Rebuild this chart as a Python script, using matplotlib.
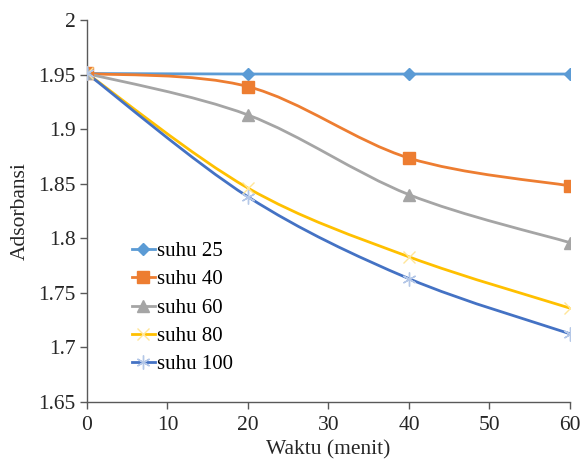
import matplotlib
matplotlib.use("Agg")
import matplotlib.pyplot as plt
from matplotlib.path import Path
from matplotlib.patches import PathPatch
from matplotlib.lines import Line2D

plt.rcParams["font.family"] = ["Liberation Serif", "DejaVu Serif"]

waktu = [0, 20, 40, 60]
labels = ["suhu 25", "suhu 40", "suhu 60", "suhu 80", "suhu 100"]
suhu_25 = [1.951, 1.9505, 1.9505, 1.9505]
suhu_40 = [1.951, 1.939, 1.8735, 1.848]
suhu_60 = [1.951, 1.913, 1.840, 1.796]
suhu_80 = [1.951, 1.846, 1.783, 1.736]
suhu_100 = [1.951, 1.838, 1.763, 1.7125]

colors = ["#5B9BD5", "#ED7D31", "#A5A5A5", "#FFC000", "#4472C4"]
markers = ["D", "s", "^", "x", (6, 2, 0)]
msizes = [6, 8, 8, 9, 10]
mface = ["#5B9BD5", "#ED7D31", "#A5A5A5", "#FFE699", "#B4C7E7"]


def smooth_path(xs, ys):
    # Excel-style smoothed line: cubic Bezier through the data points
    pts = list(zip(xs, ys))
    verts = [pts[0]]
    codes = [Path.MOVETO]
    n = len(pts)
    for i in range(n - 1):
        p0 = pts[i - 1] if i > 0 else pts[i]
        p1, p2 = pts[i], pts[i + 1]
        p3 = pts[i + 2] if i + 2 < n else pts[i + 1]
        c1 = (p1[0] + (p2[0] - p0[0]) / 6, p1[1] + (p2[1] - p0[1]) / 6)
        c2 = (p2[0] - (p3[0] - p1[0]) / 6, p2[1] - (p3[1] - p1[1]) / 6)
        verts += [c1, c2, p2]
        codes += [Path.CURVE4] * 3
    return Path(verts, codes)


fig = plt.figure(figsize=(5.81, 4.61), dpi=100)
ax = fig.add_axes([0.1497, 0.128, 0.8313, 0.8286])

series = [suhu_25, suhu_40, suhu_60, suhu_80, suhu_100]
handles = []
for ys, c, m, ms, mf, lab in zip(series, colors, markers, msizes, mface, labels):
    thin = m in ("x",) or isinstance(m, tuple)
    ax.add_patch(PathPatch(smooth_path(waktu, ys), facecolor="none", edgecolor=c, lw=2.0, zorder=2))
    if thin:
        ax.plot(waktu, ys, linestyle="none", marker=m, markersize=ms, color=mf,
                markeredgecolor=mf, markeredgewidth=1.0, zorder=3)
    else:
        ax.plot(waktu, ys, linestyle="none", marker=m, markersize=ms, color=c, zorder=3)
    handles.append(Line2D([0], [0], color=c, lw=2.0, marker=m, markersize=ms,
                          markerfacecolor=mf, markeredgecolor=mf if thin else c,
                          markeredgewidth=1.0))

ax.set_xlim(0, 60)
ax.set_ylim(1.65, 2.0)
ax.set_xticks([0, 10, 20, 30, 40, 50, 60])
ax.set_yticks([1.65, 1.7, 1.75, 1.8, 1.85, 1.9, 1.95, 2.0])
ax.set_yticklabels(["1.65", "1.7", "1.75", "1.8", "1.85", "1.9", "1.95", "2"])

for s in ("top", "right"):
    ax.spines[s].set_visible(False)
for s in ("left", "bottom"):
    ax.spines[s].set_color("#595959")
    ax.spines[s].set_linewidth(1.0)
ax.tick_params(direction="out", length=5, width=1.0, color="#595959",
               labelsize=15.5, labelcolor="#262626", pad=3)
ax.tick_params(axis="x", pad=5)

ax.set_xlabel("Waktu (menit)", fontsize=15.5, color="#262626", labelpad=4)
ax.set_ylabel("Adsorbansi", fontsize=15.5, color="#262626", labelpad=6)

ax.legend(handles, labels, loc="upper left", bbox_to_anchor=(0.093, 0.42), frameon=False,
          fontsize=15, handlelength=1.1, handletextpad=0.1, labelspacing=0.42,
          borderpad=0, borderaxespad=0)

fig.savefig("out.png", dpi=100)
